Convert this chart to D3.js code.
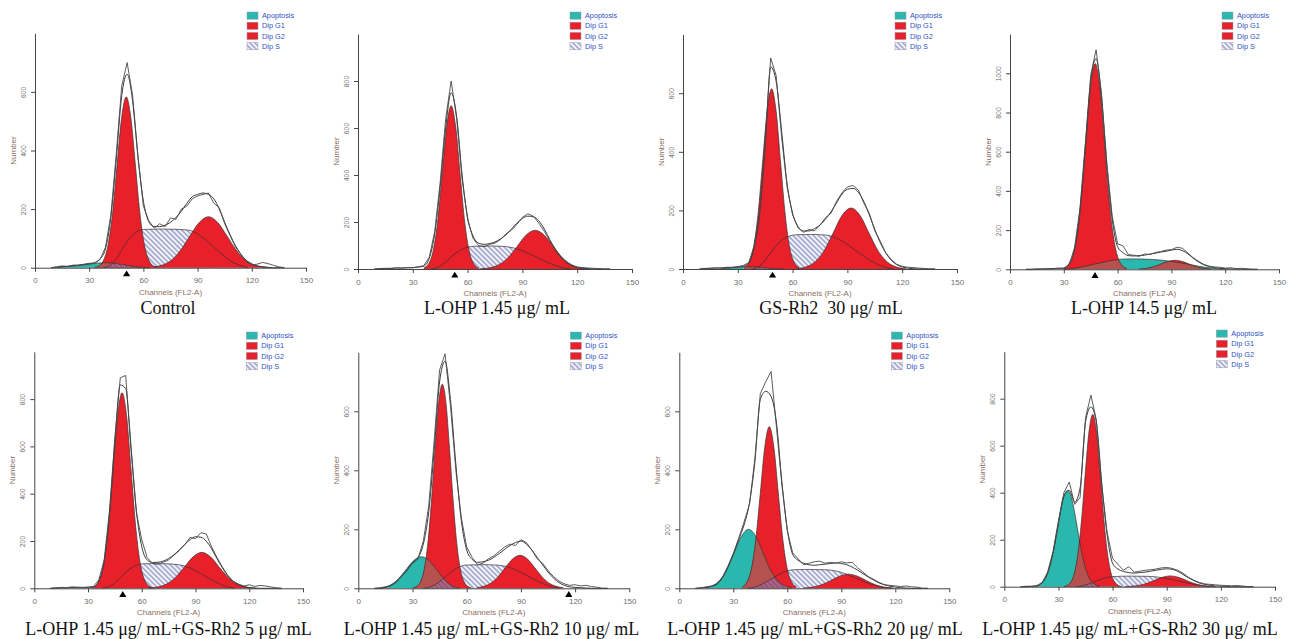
<!DOCTYPE html>
<html><head><meta charset="utf-8">
<script src="https://cdn.jsdelivr.net/npm/d3@7"></script>
<style>body{margin:0;background:#fff}svg{display:block}</style>
</head><body>
<svg id="chart" width="1293" height="639"></svg>
<script>
// ---------------- DATA ----------------
const captions = [
  "Control", "L-OHP 1.45 μg/ mL", "GS-Rh2  30 μg/ mL", "L-OHP 14.5 μg/ mL",
  "L-OHP 1.45 μg/ mL+GS-Rh2 5 μg/ mL", "L-OHP 1.45 μg/ mL+GS-Rh2 10 μg/ mL",
  "L-OHP 1.45 μg/ mL+GS-Rh2 20 μg/ mL", "L-OHP 1.45 μg/ mL+GS-Rh2 30 μg/ mL"
];
const legendLabels = ["Apoptosis", "Dip G1", "Dip G2", "Dip S"];
const xTickValues = [0, 30, 60, 90, 120, 150];
const yMaxes = [800, 1000, 800, 1200, 1000, 800, 800, 1000];
const markerChannels = [50.7, 53, 49, 47.4, 49.4, 116.5, null, null];

// channels at which the histogram and the fitted envelope are read
const gridChannels = [9,12,15,18,21,24,27,30,33,36,39,42,45,48,51,54,57,60,63,66,69,72,75,78,81,84,87,90,93,96,99,102,105,108,111,114,117,120,123,126,129,132,135,138];

// Panel 1 — Control
const apop1 = [[12,0],[16,3],[20,5],[25,8],[30,12],[35,16],[40,17],[45,14],[50,9],[55,4],[60,1],[64,0]];
const g1_1 = [[33,1],[35.5,6],[38,26],[40.5,79],[43,189],[45.5,354],[48,514],[50.5,583],[53,514],[55.5,354],[58,189],[60.5,79],[63,26],[65.5,6],[68,1]];
const g2_1 = [[66,3],[71,10],[76,28],[81,63],[86,111],[91,155],[96,174],[101,155],[106,111],[111,63],[116,28],[121,10],[126,3],[131,0]];
const s1 = [[38,0],[42,10],[46,40],[50,80],[54,112],[58,128],[62,131],[70,132],[78,131],[85,128],[90,115],[95,92],[100,65],[105,38],[110,17],[115,5],[118,0]];
const fit1 = [0,2,4,5,7,9,11,13,17,30,64,173,370,587,660,570,378,227,157,140,140,145,155,171,193,219,242,250,255,250,235,200,155,112,75,46,25,13,6,3,1,0,0,0];
const raw1 = [0,3,6,4,9,8,12,15,16,28,70,180,390,620,700,590,380,210,160,135,150,140,170,165,200,210,235,245,250,255,220,205,150,110,70,45,20,10,12,18,14,8,3,0];

// Panel 2 — L-OHP 1.45
const apop2 = [];
const g1_2 = [[36,4],[38.5,20],[41,72],[43.5,194],[46,395],[48.5,603],[51,695],[53.5,603],[56,395],[58.5,194],[61,72],[63.5,20],[66,4]];
const g2_2 = [[67,1],[72,5],[77,18],[82,47],[87,95],[92,144],[97,165],[102,144],[107,95],[112,47],[117,18],[122,5],[127,1]];
const s2 = [[40,0],[44,8],[48,30],[52,58],[56,80],[60,93],[64,97],[72,98],[80,96],[85,90],[90,78],[95,60],[100,42],[105,24],[110,10],[114,2],[117,0]];
const fit2 = [0,1,2,3,4,4,5,6,8,12,45,150,350,600,750,650,400,220,140,110,105,108,115,128,145,170,195,215,225,222,205,170,125,85,52,28,14,6,3,1,0,0,0,0];
const raw2 = [0,2,3,2,5,4,6,5,10,14,50,160,370,640,800,640,380,210,130,100,95,105,110,125,150,165,190,220,235,225,195,160,120,80,50,30,15,8,6,4,3,2,0,0];

// Panel 3 — GS-Rh2 30
const apop3 = [[20,0],[25,3],[30,6],[35,8],[40,7],[45,4],[50,1],[55,0]];
const g1_3 = [[33.5,5],[36,21],[38.5,70],[41,182],[43.5,358],[46,537],[48.5,615],[51,537],[53.5,358],[56,182],[58.5,70],[61,21],[63.5,5]];
const g2_3 = [[62,1],[67,6.5],[72,23],[77,60],[82,120],[87,182],[92,208],[97,182],[102,120],[107,60],[112,23],[117,6.5],[122,1]];
const s3 = [[38,0],[42,10],[46,38],[50,72],[54,98],[58,112],[62,117],[70,118],[78,116],[83,108],[88,92],[93,70],[98,48],[103,27],[108,12],[112,4],[115,0]];
const fit3 = [0,1,2,3,4,5,6,7,10,20,75,190,420,690,640,470,290,190,145,130,130,138,150,170,195,225,255,272,275,262,230,185,135,90,55,30,15,7,3,1,0,0,0,0];
const raw3 = [0,2,3,4,3,6,5,8,12,22,80,200,440,720,660,450,280,185,140,125,135,130,150,175,190,230,260,280,285,270,225,190,130,95,55,32,16,9,6,5,3,2,0,0];

// Panel 4 — L-OHP 14.5
const apop4 = [[30,0],[35,4],[40,12],[45,22],[50,32],[55,42],[60,50],[65,53],[70,53],[75,52],[80,50],[85,46],[90,40],[95,33],[100,25],[105,16],[110,9],[115,3],[120,0]];
const g1_4 = [[30,4.5],[32.5,19],[35,65],[37.5,177],[40,386],[42.5,673],[45,939],[47.5,1050],[50,939],[52.5,673],[55,386],[57.5,177],[60,65],[62.5,19],[65,4.5]];
const g2_4 = [[72,1],[77,6],[82,19],[87,37],[92,46],[97,37],[102,19],[107,6],[112,1]];
const s4 = [];
const fit4 = [0,0,1,2,3,4,5,6,30,105,300,628,960,1075,880,535,256,115,85,70,68,70,72,78,82,88,92,98,102,96,80,58,38,24,14,8,5,3,2,1,1,0,0,0];
const raw4 = [0,0,2,1,3,2,6,5,25,110,310,640,990,1120,900,540,270,130,120,75,72,66,78,75,86,90,98,100,112,108,85,60,42,25,16,12,10,6,8,4,5,3,0,0];

// Panel 5 — + GS-Rh2 5
const apop5 = [];
const g1_5 = [[31.5,2],[34,9],[36.5,36],[39,112],[41.5,268],[44,502],[46.5,730],[49,827],[51.5,730],[54,502],[56.5,268],[59,112],[61.5,36],[64,9],[66.5,2]];
const g2_5 = [[63.5,1],[68.5,5],[73.5,17],[78.5,44],[83.5,87],[88.5,132],[93.5,152],[98.5,132],[103.5,87],[108.5,44],[113.5,17],[118.5,5],[123.5,1]];
const s5 = [[38,0],[42,8],[46,30],[50,60],[54,85],[58,100],[62,104],[70,104],[78,102],[83,96],[88,82],[93,62],[98,40],[103,20],[108,6],[112,0]];
const fit5 = [0,1,2,2,3,3,3,4,6,32,116,318,622,860,845,587,326,176,120,109,110,115,126,142,163,185,206,218,216,199,167,125,87,53,29,15,7,3,1,0,0,0,0,0];
const raw5 = [0,2,4,3,6,5,4,5,8,35,120,330,640,890,900,600,320,205,130,105,102,110,120,140,160,185,215,210,235,230,175,130,90,55,30,18,10,15,8,12,10,6,2,0];

// Panel 6 — + GS-Rh2 10
const apop6 = [[12,0],[15,4],[18,12],[21,25],[24,45],[27,68],[30,90],[33,104],[35,107],[38,100],[41,82],[44,58],[47,35],[50,16],[53,5],[56,0]];
const g1_6 = [[30.5,2],[32.5,7],[34.5,23],[36.5,65],[38.5,153],[40.5,296],[42.5,474],[44.5,630],[46.5,692],[48.5,630],[50.5,474],[52.5,296],[54.5,153],[56.5,65],[58.5,23],[60.5,7],[62.5,2]];
const g2_6 = [[65.5,2],[69.5,7],[73.5,18],[77.5,40],[81.5,71],[85.5,100],[89.5,112],[93.5,100],[97.5,71],[101.5,40],[105.5,18],[109.5,7],[113.5,2]];
const s6 = [[36,0],[40,5],[44,18],[48,38],[52,58],[56,73],[60,79],[70,80],[78,78],[83,72],[88,60],[93,44],[98,28],[103,14],[108,4],[112,0]];
const fit6 = [0,0,3,10,22,40,62,85,102,150,260,470,700,770,640,420,230,130,98,88,90,95,105,118,132,145,155,160,150,130,105,80,55,35,20,10,5,3,2,1,0,0,0,0];
const raw6 = [0,2,5,8,20,42,60,88,100,160,280,500,740,795,620,400,240,140,105,80,85,100,110,125,140,150,145,165,155,130,100,85,60,40,25,15,10,12,8,10,6,4,0,0];

// Panel 7 — + GS-Rh2 20
const apop7 = [[14.5,2],[18.5,9],[22.5,27],[26.5,65],[30.5,121],[34.5,176],[38.5,200],[42.5,176],[46.5,121],[50.5,65],[54.5,27],[58.5,9],[62.5,2]];
const g1_7 = [[35,5],[37.5,20],[40,65],[42.5,166],[45,322],[47.5,480],[50,548],[52.5,480],[55,322],[57.5,166],[60,65],[62.5,20],[65,5]];
const g2_7 = [[69,1],[74,4],[79,12],[84,26],[89,41],[94,48],[99,41],[104,26],[109,12],[114,4],[119,1]];
const s7 = [[38,0],[42,4],[46,14],[50,28],[54,42],[58,55],[62,62],[70,64],[80,63],[86,60],[91,52],[96,40],[101,27],[106,15],[111,6],[115,1],[118,0]];
const fit7 = [0,1,3,7,14,36,72,115,165,215,290,430,640,668,650,560,360,200,115,95,85,80,78,80,82,84,86,84,80,72,62,50,38,28,18,12,7,4,2,1,0,0,0,0];
const raw7 = [0,2,5,8,15,38,75,118,170,225,285,440,660,700,735,545,350,195,120,100,80,85,90,92,85,88,85,90,86,88,70,55,40,30,20,12,10,8,6,8,5,4,0,0];

// Panel 8 — + GS-Rh2 30
const apop8 = [[17,2],[19,6],[21,16],[23,38],[25,78],[27,142],[29,226],[31,314],[33,383],[35,409],[37,383],[39,314],[41,226],[43,142],[45,78],[47,38],[49,16],[51,6],[53,2]];
const g1_8 = [[33,1],[35,6],[37,21],[39,62],[41,151],[43,301],[45,494],[47,664],[49,733],[51,664],[53,494],[55,301],[57,151],[59,62],[61,21],[63,6],[65,1]];
const g2_8 = [[67,0.6],[72,2.9],[77,9.7],[82,23],[87,38.7],[92,46],[97,38.7],[102,23],[107,9.7],[112,2.9],[117,0.6]];
const s8 = [[40,0],[44,5],[48,15],[52,27],[56,38],[60,43],[70,45],[80,44],[85,41],[90,35],[95,27],[100,18],[105,10],[110,4],[114,0]];
const fit8 = [0,0,1,3,18,60,145,270,385,410,360,420,700,765,700,440,220,100,75,65,60,58,60,62,66,70,74,76,74,66,52,38,26,16,10,6,3,2,1,0,0,0,0,0];
const raw8 = [0,2,2,5,18,62,150,280,400,445,350,380,720,815,710,430,230,120,95,70,85,62,66,70,72,75,80,82,78,70,58,40,28,18,12,10,8,6,5,4,5,3,0,0];

// ---------------- LAYOUT ----------------
const layout = [
  {x0:35,   x1:306,   base:267.7, top:33.3,  capX:168,  capY:314, legY:12},
  {x0:358,  x1:632,   base:269,   top:34,    capX:497,  capY:314, legY:12},
  {x0:683,  x1:957,   base:269,   top:34.6,  capX:831,  capY:314, legY:12},
  {x0:1010, x1:1279,  base:269.3, top:34.1,  capX:1144, capY:314, legY:12},
  {x0:34.3, x1:303,   base:588.3, top:351.8, capX:168.5,capY:635, legY:332},
  {x0:358.3,x1:629.3, base:588.3, top:352.3, capX:491.5,capY:635, legY:332},
  {x0:679.3,x1:949.3, base:588.3, top:352.3, capX:815,  capY:635, legY:332},
  {x0:1004.3,x1:1275, base:586.7, top:351.7, capX:1130, capY:635, legY:330}
];
const RED = "#e8202a", TEAL = "#2ab7ae", BROWN = "#b5514e";
const AXIS = "#444", TICKTXT = "#6f6f6f", LBL = "#8c6e62", LEG = "#3050c8";

const panels = [
  {apop:apop1,g1:g1_1,g2:g2_1,s:s1,fit:fit1,raw:raw1},
  {apop:apop2,g1:g1_2,g2:g2_2,s:s2,fit:fit2,raw:raw2},
  {apop:apop3,g1:g1_3,g2:g2_3,s:s3,fit:fit3,raw:raw3},
  {apop:apop4,g1:g1_4,g2:g2_4,s:s4,fit:fit4,raw:raw4},
  {apop:apop5,g1:g1_5,g2:g2_5,s:s5,fit:fit5,raw:raw5},
  {apop:apop6,g1:g1_6,g2:g2_6,s:s6,fit:fit6,raw:raw6},
  {apop:apop7,g1:g1_7,g2:g2_7,s:s7,fit:fit7,raw:raw7},
  {apop:apop8,g1:g1_8,g2:g2_8,s:s8,fit:fit8,raw:raw8}
];

const svg = d3.select("#chart");
const defs = svg.append("defs");
function hatch(id, bg, fg) {
  const p = defs.append("pattern").attr("id", id).attr("patternUnits", "userSpaceOnUse")
    .attr("width", 3.6).attr("height", 3.6).attr("patternTransform", "rotate(45)");
  p.append("rect").attr("width", 3.6).attr("height", 3.6).attr("fill", bg);
  p.append("line").attr("x1", 0).attr("x2", 3.6).attr("y1", 1.8).attr("y2", 1.8)
    .attr("stroke", fg).attr("stroke-width", 1.2);
}
hatch("hatchS", "#f4f4fb", "#8088be");
hatch("hatchP", "#b9636d", "#6d4c9e");

panels.forEach((p, i) => {
  const L = layout[i];
  const ymax = yMaxes[i];
  const x = d3.scaleLinear().domain([0, 150]).range([L.x0, L.x1]);
  const y = d3.scaleLinear().domain([0, ymax]).range([L.base, L.top]);
  const g = svg.append("g");
  const area = d3.area().x(d => x(d[0])).y0(y(0)).y1(d => y(d[1])).curve(d3.curveMonotoneX);
  const line = d3.line().x(d => x(d[0])).y(d => y(d[1])).curve(d3.curveMonotoneX);

  if (p.apop.length) defs.append("clipPath").attr("id", "ap" + i).append("path").attr("d", area(p.apop));

  if (p.s.length) g.append("path").attr("d", area(p.s)).attr("fill", "url(#hatchS)");
  if (p.apop.length) g.append("path").attr("d", area(p.apop)).attr("fill", TEAL);
  g.append("path").attr("d", area(p.g1)).attr("fill", RED);
  g.append("path").attr("d", area(p.g2)).attr("fill", RED);
  if (p.apop.length) {
    g.append("path").attr("d", area(p.g1)).attr("fill", BROWN).attr("clip-path", `url(#ap${i})`);
    g.append("path").attr("d", area(p.g2)).attr("fill", BROWN).attr("clip-path", `url(#ap${i})`);
    if (p.s.length) g.append("path").attr("d", area(p.s)).attr("fill", "url(#hatchP)").attr("clip-path", `url(#ap${i})`);
  }
  // component outlines
  [p.apop, p.s, p.g1, p.g2].forEach(c => {
    if (c.length) g.append("path").attr("d", line(c)).attr("fill", "none").attr("stroke", "#3a3030").attr("stroke-width", 0.7);
  });

  // histogram and fit
  const fitPts = gridChannels.map((c, k) => [c, p.fit[k]]);
  const rawPts = gridChannels.map((c, k) => [c, p.raw[k]]);
  g.append("path").attr("d", line(fitPts)).attr("fill", "none").attr("stroke", "#3c3c3c").attr("stroke-width", 1);
  g.append("path").attr("d", d3.line().x(d => x(d[0])).y(d => y(d[1]))(rawPts))
    .attr("fill", "none").attr("stroke", "#4a4a4a").attr("stroke-width", 0.9);

  // axes
  const xMinor = d3.range(0, 151, 5), yMinor = d3.range(0, ymax + 1, ymax / 40);
  const yMajor = d3.range(0, ymax, 200);
  const gx = g.append("g").attr("transform", `translate(0,${L.base})`);
  gx.call(d3.axisBottom(x).tickValues(xMinor).tickSize(2.5).tickFormat("").tickSizeOuter(0));
  gx.call(d3.axisBottom(x).tickValues(xTickValues).tickSize(4).tickSizeOuter(0).tickPadding(6).tickFormat(d3.format("d")));
  const gy = g.append("g").attr("transform", `translate(${L.x0},0)`);
  gy.call(d3.axisLeft(y).tickValues(yMinor).tickSize(2.5).tickFormat("").tickSizeOuter(0));
  gy.call(d3.axisLeft(y).tickValues(yMajor).tickSize(4).tickSizeOuter(0).tickFormat(d3.format("d")));
  [gx, gy].forEach(a => {
    a.selectAll("path,line").attr("stroke", AXIS);
    a.selectAll("text").attr("fill", TICKTXT).attr("font-family", "Liberation Sans, Arial, sans-serif");
  });
  gx.selectAll("text").attr("font-size", 8);
  gy.selectAll("text").attr("font-size", 6.8).attr("x", null).attr("dy", null)
    .attr("text-anchor", "middle").attr("transform", "translate(-9.5,0) rotate(-90)");

  g.append("text").attr("x", (L.x0 + L.x1) / 2).attr("y", L.base + 27)
    .attr("text-anchor", "middle").attr("font-family", "Liberation Sans, Arial, sans-serif")
    .attr("font-size", 8).attr("fill", LBL).text("Channels (FL2-A)");
  g.append("text").attr("transform", `translate(${L.x0 - 19.5},${(L.base + L.top) / 2}) rotate(-90)`)
    .attr("text-anchor", "middle").attr("font-family", "Liberation Sans, Arial, sans-serif")
    .attr("font-size", 8).attr("fill", LBL).text("Number");

  // G1 marker
  if (markerChannels[i] !== null) {
    const mx = x(markerChannels[i]);
    g.append("path").attr("d", `M${mx},${L.base + 2.8}L${mx + 3.6},${L.base + 8.6}L${mx - 3.6},${L.base + 8.6}Z`).attr("fill", "#000");
  }

  // legend
  const lg = g.append("g").attr("transform", `translate(${L.x0 + 212},${L.legY})`);
  legendLabels.forEach((t, k) => {
    const fill = k === 0 ? TEAL : (k === 3 ? "url(#hatchS)" : RED);
    lg.append("rect").attr("x", 0).attr("y", k * 10.2).attr("width", 11).attr("height", 7.2)
      .attr("fill", fill).attr("stroke", "#9a9aa8").attr("stroke-width", 0.5);
    lg.append("text").attr("x", 15).attr("y", k * 10.2 + 6.2).attr("font-size", 7.3)
      .attr("font-family", "Liberation Sans, Arial, sans-serif").attr("fill", LEG).text(t);
  });

  // caption
  svg.append("text").attr("x", L.capX).attr("y", L.capY).attr("text-anchor", "middle")
    .attr("font-family", "Liberation Serif, Times New Roman, serif").attr("font-size", 18)
    .attr("fill", "#111").style("white-space", "pre").text(captions[i]);
});
</script>
</body></html>
